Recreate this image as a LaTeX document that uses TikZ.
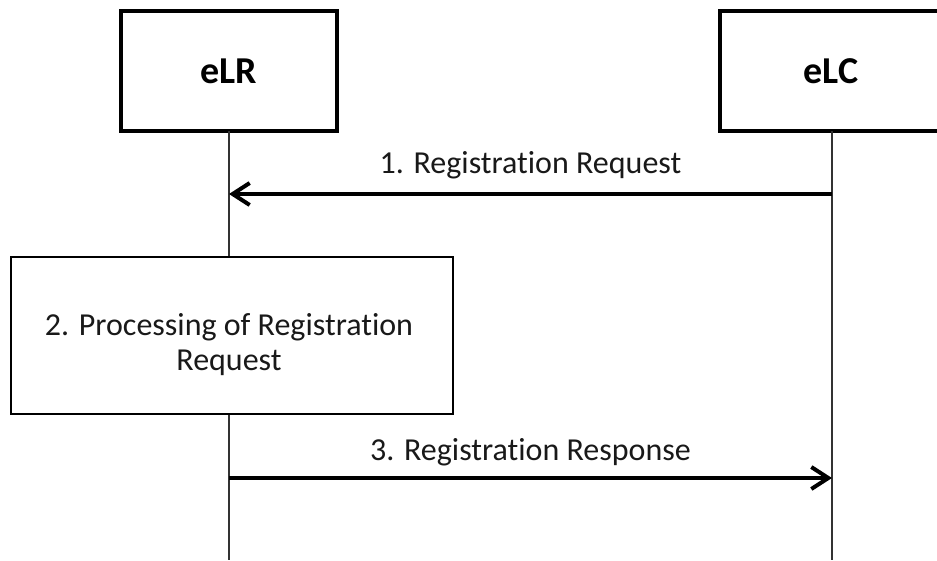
\documentclass[tikz,border=0pt]{standalone}
\usepackage{fontspec}
\setmainfont{Carlito}[RawFeature={-liga}]
\usetikzlibrary{arrows.meta}
\begin{document}
\begin{tikzpicture}[x=1pt,y=-1pt,
  entity/.style={draw=black,line width=4pt,fill=white,minimum width=216pt,minimum height=120pt,
    inner sep=0pt,outer sep=0pt,font=\fontsize{38}{42}\selectfont\bfseries},
  procbox/.style={draw=black,line width=1.2pt,fill=white,minimum width=442pt,minimum height=157pt,
    inner sep=0pt,outer sep=0pt},
  proctext/.style={anchor=base,inner sep=0pt,font=\fontsize{32}{37}\selectfont,text=black!90},
  lifeline/.style={draw=black!80,line width=1.4pt},
  msg/.style={line width=4pt,-{Straight Barb[length=17pt,width=22pt,line width=4pt]}},
  msglabel/.style={anchor=base,inner sep=0pt,font=\fontsize{32}{38}\selectfont,text=black!90}
]
\useasboundingbox (0,0) rectangle (937,560);
\clip (0,0) rectangle (937,560);
\fill[white] (0,0) rectangle (937,560);
% entities
\node[entity] (elr) at (229,71) {eLR};
\node[entity,minimum width=240pt] (elc) at (840,71) {};
\node[inner sep=0pt,font=\fontsize{38}{42}\selectfont\bfseries] (elct) at (831,71) {eLC};
% lifeline ends
\coordinate (elrend) at (229,560);
\coordinate (elcend) at (832,560);
\coordinate (elctop) at (832,131);
\draw[lifeline] (elr.south) -- (elrend);
\draw[lifeline] (elctop) -- (elcend);
% message 1
\coordinate (m1s) at (832,194);
\coordinate (m1e) at (229,194);
\draw[msg] (m1s) -- (m1e);
\node[msglabel] (l1) at (530.5,173) {1. Registration Request};
% processing box
\node[procbox] (proc) at (232,335.5) {};
\node[proctext] (p1) at (229,335) {2. Processing of Registration};
\node[proctext] (p2) at (229,370) {Request};
% message 3
\coordinate (m3s) at (229,478);
\coordinate (m3e) at (832,478);
\draw[msg] (m3s) -- (m3e);
\node[msglabel] (l3) at (530.5,460) {3. Registration Response};
\end{tikzpicture}
\end{document}
